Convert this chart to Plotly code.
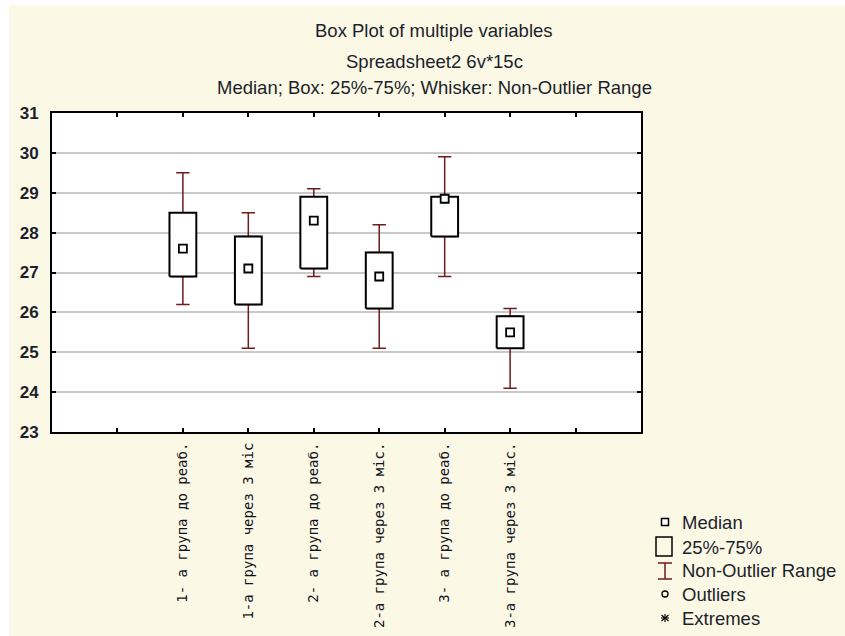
import plotly.graph_objects as go

# ---------------- data ----------------
categories = ["1- а група до реаб.", "1-а група через 3 міс", "2- а група до реаб.",
              "2-а група через 3 міс.", "3- а група до реаб.", "3-а група через 3 міс."]
medians = [27.6, 27.1, 28.3, 26.9, 28.85, 25.5]
q1 = [26.9, 26.2, 27.1, 26.1, 27.9, 25.1]
q3 = [28.5, 27.9, 28.9, 27.5, 28.9, 25.9]
lower = [26.2, 25.1, 26.9, 25.1, 26.9, 24.1]
upper = [29.5, 28.5, 29.1, 28.2, 29.9, 26.1]
y_ticks = [23, 24, 25, 26, 27, 28, 29, 30, 31]
titles = ["Box Plot of multiple variables", "Spreadsheet2 6v*15c",
          "Median; Box: 25%-75%; Whisker: Non-Outlier Range"]
legend_labels = ["Median", "25%-75%", "Non-Outlier Range", "Outliers", "Extremes"]

# ---------------- style ----------------
W, H = 845, 636
L, R, T, B = 52, 204, 113, 204
PW, PH = W - L - R, H - T - B
RED = "#6e1c1c"
TXT = "#1b1f2b"
CREAM = "#fcf8e6"
FONT = "Liberation Sans, Arial, sans-serif"
BOX_HALF = 0.205

xs = list(range(len(categories)))

fig = go.Figure()

# whiskers (box trace, dark red) - box part gets covered by black rectangles
fig.add_trace(go.Box(
    x=xs, q1=q1, median=medians, q3=q3, lowerfence=lower, upperfence=upper,
    width=0.3, whiskerwidth=0.68, line=dict(color=RED, width=1.5),
    fillcolor="white", boxpoints=False, hoverinfo="skip", showlegend=False))

# boxes 25%-75%
for i in xs:
    fig.add_trace(go.Scatter(
        x=[i - BOX_HALF, i + BOX_HALF, i + BOX_HALF, i - BOX_HALF, i - BOX_HALF],
        y=[q1[i], q1[i], q3[i], q3[i], q1[i]],
        mode="lines", fill="toself", fillcolor="white",
        line=dict(color="black", width=2), hoverinfo="skip", showlegend=False))

# medians
fig.add_trace(go.Scatter(
    x=xs, y=medians, mode="markers",
    marker=dict(symbol="square", size=8, color="white", line=dict(color="black", width=1.8)),
    hoverinfo="skip", showlegend=False))


def px(xp):
    return (xp - L) / PW


def py(yp):
    return (T + PH - yp) / PH


shapes = []
annotations = []

# white border strips of the screenshot
shapes.append(dict(type="rect", xref="paper", yref="paper", x0=px(0), x1=px(9), y0=py(H), y1=py(0),
                   fillcolor="white", line=dict(width=0), layer="below"))
shapes.append(dict(type="rect", xref="paper", yref="paper", x0=px(0), x1=px(W), y0=py(5), y1=py(0),
                   fillcolor="white", line=dict(width=0), layer="below"))

# titles
for t, yy in zip(titles, [30, 61, 88]):
    annotations.append(dict(text=t, xref="paper", yref="paper", x=px(434), y=py(yy),
                            xanchor="center", yanchor="middle", showarrow=False,
                            font=dict(family=FONT, size=18.5, color=TXT)))

# legend
lx, tx = 665, 680
ly = [522, 547, 570, 594, 618]
# median symbol
shapes.append(dict(type="rect", xref="paper", yref="paper", x0=px(lx - 3.5), x1=px(lx + 3.5),
                   y0=py(ly[0] + 3.5), y1=py(ly[0] - 3.5), line=dict(color="black", width=1.5),
                   fillcolor="white"))
# box symbol
shapes.append(dict(type="rect", xref="paper", yref="paper", x0=px(656), x1=px(672),
                   y0=py(556), y1=py(537), line=dict(color="black", width=1.5), fillcolor="rgba(0,0,0,0)"))
# whisker symbol
for (x0, y0, x1, y1) in [(lx, 563, lx, 579), (658, 563, 672, 563), (658, 579, 672, 579)]:
    shapes.append(dict(type="line", xref="paper", yref="paper", x0=px(x0), x1=px(x1),
                       y0=py(y0), y1=py(y1), line=dict(color=RED, width=1.5)))
# outlier symbol
shapes.append(dict(type="circle", xref="paper", yref="paper", x0=px(lx - 3), x1=px(lx + 3),
                   y0=py(ly[3] + 3), y1=py(ly[3] - 3), line=dict(color="black", width=1.3)))
# extremes symbol
c = ly[4]
for (dx0, dy0, dx1, dy1) in [(0, -4, 0, 4), (-4, 0, 4, 0), (-3.5, -3, 3.5, 3), (-3.5, 3, 3.5, -3)]:
    shapes.append(dict(type="line", xref="paper", yref="paper", x0=px(lx + dx0), x1=px(lx + dx1),
                       y0=py(c + dy0), y1=py(c + dy1), line=dict(color="black", width=1.1)))
for lab, yy in zip(legend_labels, ly):
    annotations.append(dict(text=lab, xref="paper", yref="paper", x=px(tx), y=py(yy),
                            xanchor="left", yanchor="middle", showarrow=False,
                            font=dict(family=FONT, size=18.5, color=TXT)))

x_tickvals = [-1] + xs + [len(xs)]
x_ticktext = [""] + categories + [""]

fig.update_layout(
    width=W, height=H,
    margin=dict(l=L, r=R, t=T, b=B, pad=0),
    paper_bgcolor=CREAM, plot_bgcolor="white",
    showlegend=False,
    shapes=shapes, annotations=annotations,
    xaxis=dict(range=[-2, 7], tickmode="array", tickvals=x_tickvals, ticktext=x_ticktext,
               tickangle=-90, ticks="inside", ticklen=4, tickwidth=1.5, tickcolor="black",
               showgrid=False, zeroline=False, showline=True, linecolor="black", linewidth=2,
               mirror="ticks", ticklabelstandoff=3, automargin=False,
               tickfont=dict(family="DejaVu Sans Mono, monospace", size=14, color="#10131c")),
    yaxis=dict(range=[23, 31], tickmode="array", tickvals=y_ticks,
               ticktext=["<b>%d</b>" % v for v in y_ticks],
               ticks="inside", ticklen=4, tickwidth=1.5, tickcolor="black",
               showgrid=True, gridcolor="#c9c9c9", gridwidth=1.5, zeroline=False,
               showline=True, linecolor="black", linewidth=2, mirror="ticks",
               ticklabelstandoff=8, automargin=False,
               tickfont=dict(family=FONT, size=17, color=TXT)),
)

fig.write_html("out.html")
